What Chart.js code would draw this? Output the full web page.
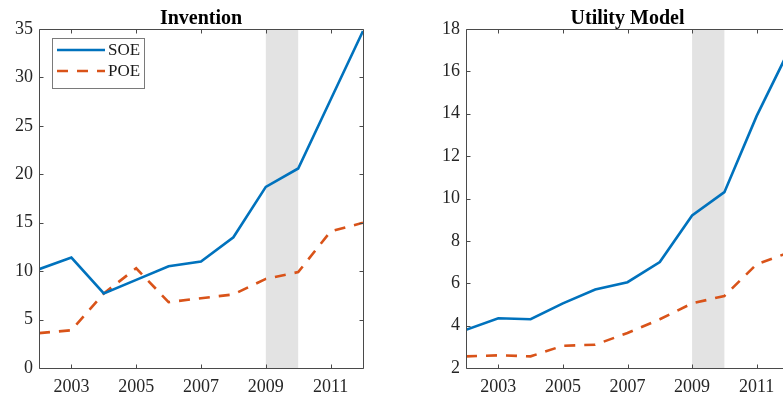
<!DOCTYPE html>
<html>
<head>
<meta charset="utf-8">
<script src="https://cdn.jsdelivr.net/npm/chart.js@4/dist/chart.umd.min.js"></script>
<style>
  html, body { margin: 0; padding: 0; background: #fff; overflow: hidden; }
  #wrap { position: relative; width: 783px; height: 400px; overflow: hidden; background: #fff; }
  #wrap canvas { position: absolute; top: 0; }
</style>
</head>
<body>
<div id="wrap">
  <canvas id="invention" width="391" height="400" style="left:0px"></canvas>
  <canvas id="utility" width="400" height="400" style="left:400px"></canvas>
</div>
<script>
// Patent counts by ownership type, 2002-2012
const years = [2002, 2003, 2004, 2005, 2006, 2007, 2008, 2009, 2010, 2011, 2012];
const yearTicks = [2003, 2005, 2007, 2009, 2011];

const inventionSOE = [10.2, 11.4, 7.7, 9.1, 10.5, 11.0, 13.5, 18.7, 20.6, 27.7, 34.8];
const inventionPOE = [3.6, 3.9, 7.7, 10.3, 6.8, 7.2, 7.6, 9.2, 9.9, 14.1, 15.0];
const inventionTicks = [0, 5, 10, 15, 20, 25, 30, 35];

const utilitySOE = [3.8, 4.35, 4.3, 5.05, 5.7, 6.05, 7.0, 9.2, 10.3, 13.9, 17.0];
const utilityPOE = [2.55, 2.6, 2.55, 3.05, 3.1, 3.65, 4.3, 5.05, 5.4, 6.9, 7.45];
const utilityTicks = [2, 4, 6, 8, 10, 12, 14, 16, 18];

// shaded period
const shadeFrom = 2009;
const shadeTo = 2010;

const BLUE = '#0072BD';
const ORANGE = '#D95319';
const SERIF = "'Liberation Serif', 'Times New Roman', serif";

const toPoints = vals => years.map((yr, i) => ({ x: yr, y: vals[i] }));

// Box-style axes with inward ticks, a shaded band and an optional legend
const boxAxes = {
  id: 'boxAxes',
  beforeDatasetsDraw(chart) {
    const { ctx, chartArea: a, scales: { x } } = chart;
    const x0 = x.getPixelForValue(shadeFrom);
    const x1 = x.getPixelForValue(shadeTo);
    ctx.save();
    ctx.fillStyle = '#e3e3e3';
    ctx.fillRect(x0, a.top, x1 - x0, a.bottom - a.top);
    ctx.restore();
  },
  afterDatasetsDraw(chart, args, opts) {
    const { ctx, chartArea: a, scales: { x, y } } = chart;
    ctx.save();
    ctx.strokeStyle = '#4a4a4a';
    ctx.lineWidth = 1;
    ctx.beginPath();
    const L = Math.round(a.left) + 0.5, R = Math.round(a.right) + 0.5;
    const T = Math.round(a.top) + 0.5, B = Math.round(a.bottom) + 0.5;
    ctx.rect(L, T, R - L, B - T);
    const tl = 4;
    x.ticks.forEach(t => {
      const px = Math.round(x.getPixelForValue(t.value)) + 0.5;
      ctx.moveTo(px, B); ctx.lineTo(px, B - tl);
      ctx.moveTo(px, T); ctx.lineTo(px, T + tl);
    });
    y.ticks.forEach(t => {
      const py = Math.round(y.getPixelForValue(t.value)) + 0.5;
      ctx.moveTo(L, py); ctx.lineTo(L + tl, py);
      ctx.moveTo(R, py); ctx.lineTo(R - tl, py);
    });
    ctx.stroke();

    if (opts.legend) {
      const bx = a.left + 13, by = a.top + 9, bw = 92, bh = 50;
      ctx.fillStyle = '#fff';
      ctx.fillRect(bx, by, bw, bh);
      ctx.strokeStyle = '#7a7a7a';
      ctx.strokeRect(Math.round(bx) + 0.5, Math.round(by) + 0.5, bw, bh);
      chart.data.datasets.forEach((ds, i) => {
        const ly = by + 12 + i * 21;
        ctx.beginPath();
        ctx.strokeStyle = ds.borderColor;
        ctx.lineWidth = ds.borderWidth;
        ctx.setLineDash(ds.borderDash || []);
        ctx.moveTo(bx + 5, ly);
        ctx.lineTo(bx + 53, ly);
        ctx.stroke();
        ctx.setLineDash([]);
        ctx.fillStyle = '#1a1a1a';
        ctx.font = '17px ' + SERIF;
        ctx.textBaseline = 'middle';
        ctx.textAlign = 'left';
        ctx.fillText(ds.label, bx + 56, ly + 1);
      });
    }
    ctx.restore();
  }
};

function makePanel(id, title, soe, poe, yTicks, yWidth, rightPad, showLegend) {
  return new Chart(document.getElementById(id), {
    type: 'line',
    data: {
      datasets: [
        { label: 'SOE', data: toPoints(soe), borderColor: BLUE, borderWidth: 2.6,
          pointRadius: 0, tension: 0, fill: false },
        { label: 'POE', data: toPoints(poe), borderColor: ORANGE, borderWidth: 2.6,
          borderDash: [11, 9], pointRadius: 0, tension: 0, fill: false }
      ]
    },
    options: {
      responsive: false,
      animation: false,
      devicePixelRatio: 1,
      layout: { padding: { left: 0, right: rightPad, top: 0, bottom: 0 } },
      plugins: {
        legend: { display: false },
        tooltip: { enabled: false },
        title: {
          display: true, text: title, fullSize: false, color: '#000',
          font: { family: SERIF, size: 20, weight: 'bold', lineHeight: 1.0 },
          padding: { top: 9, bottom: 0 }
        },
        boxAxes: { legend: showLegend }
      },
      scales: {
        x: {
          type: 'linear',
          min: years[0], max: years[years.length - 1],
          afterBuildTicks: s => { s.ticks = yearTicks.map(v => ({ value: v })); },
          afterFit: s => { s.height = 32; },
          grid: { display: false, drawTicks: false },
          border: { display: false },
          ticks: {
            autoSkip: false, maxRotation: 0, padding: 8,
            color: '#262626', font: { family: SERIF, size: 18 },
            callback: v => String(v)
          }
        },
        y: {
          min: yTicks[0], max: yTicks[yTicks.length - 1],
          afterBuildTicks: s => { s.ticks = yTicks.map(v => ({ value: v })); },
          afterFit: s => { s.width = yWidth; },
          grid: { display: false, drawTicks: false },
          border: { display: false },
          ticks: {
            padding: 6,
            color: '#262626', font: { family: SERIF, size: 18 },
            callback: v => String(v)
          }
        }
      }
    },
    plugins: [boxAxes]
  });
}

makePanel('invention', 'Invention', inventionSOE, inventionPOE, inventionTicks, 39, 28, true);
makePanel('utility', 'Utility Model', utilitySOE, utilityPOE, utilityTicks, 66, 11, false);
</script>
</body>
</html>
